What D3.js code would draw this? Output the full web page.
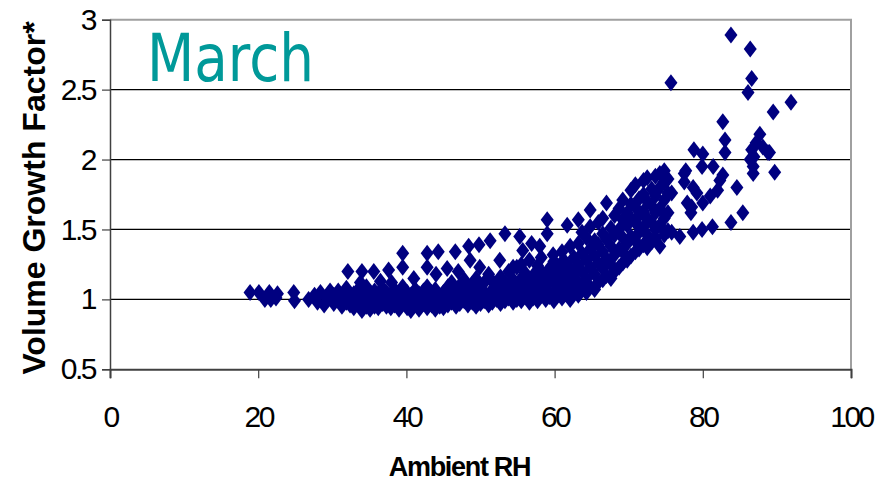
<!DOCTYPE html>
<html>
<head>
<meta charset="utf-8">
<script src="https://cdn.jsdelivr.net/npm/d3@7"></script>
<style>
  body { margin: 0; background: #fff; }
  svg { display: block; font-family: "Liberation Sans", Arial, sans-serif; }
  .tick text { font-size: 30px; letter-spacing: -2.5px; fill: #000; }
</style>
</head>
<body>
<div id="chart"></div>
<script>
// axis ticks
let xTicks = [0, 20, 40, 60, 80, 100];
let yTicks = [0.5, 1, 1.5, 2, 2.5, 3];

// points, [ambient RH, volume growth factor]
let tailPoints = [
  [18.9, 1.05], [20.1, 1.05], [20.9, 1.00], [21.5, 1.05], [21.7, 1.00], [22.4, 1.01], [22.6, 1.04],
  [24.8, 1.05], [24.9, 0.99], [26.8, 1.00], [27.6, 1.03], [28.0, 0.98], [28.4, 1.05], [28.9, 0.96],
  [29.3, 1.01], [29.7, 1.06]
];

let lowBand = [
  [30.2, 0.97], [30.2, 1.03], [30.8, 1.00], [30.8, 1.06], [31.3, 0.95], [31.3, 1.02],
  [31.9, 0.98], [31.9, 1.05], [31.9, 1.08], [32.4, 0.96], [32.4, 1.01],
  [32.9, 0.99], [32.9, 1.04], [32.9, 0.94], [33.5, 0.97], [33.5, 1.02], [33.5, 1.07],
  [34.0, 0.92], [34.0, 0.99], [34.0, 1.05], [34.6, 0.95], [34.6, 1.01], [34.6, 1.09],
  [35.1, 0.97], [35.1, 1.03], [35.1, 0.93], [35.7, 0.99], [35.7, 1.06], [35.7, 0.95],
  [36.2, 0.94], [36.2, 1.01], [36.2, 1.04], [36.8, 0.97], [36.8, 1.08], [36.8, 1.02],
  [37.3, 0.95], [37.3, 1.00], [37.3, 1.05], [37.9, 0.98], [37.9, 1.03], [37.9, 0.94],
  [38.4, 0.96], [38.4, 1.01], [38.4, 1.07], [39.0, 0.93], [39.0, 0.99], [39.0, 1.04],
  [39.5, 0.97], [39.5, 1.02], [39.5, 1.09], [40.1, 0.94], [40.1, 1.00], [40.1, 1.05],
  [40.6, 0.96], [40.6, 1.03], [40.6, 0.92], [41.2, 0.98], [41.2, 1.01], [41.2, 1.07],
  [41.7, 0.95], [41.7, 1.04], [41.7, 0.93], [42.3, 0.97], [42.3, 1.00], [42.3, 1.06],
  [42.8, 0.94], [42.8, 1.02], [42.8, 1.09], [43.4, 0.96], [43.4, 0.99], [43.4, 1.05],
  [43.9, 0.93], [43.9, 1.01], [43.9, 1.07], [44.5, 0.97], [44.5, 1.03], [44.5, 0.95],
  [45.0, 0.99], [45.0, 1.05], [45.0, 0.94]
];

let lowOutliers = [
  [32.1, 1.20], [34.0, 1.20], [35.6, 1.20], [37.6, 1.21], [39.5, 1.33], [39.5, 1.23],
  [38.0, 1.12], [42.8, 1.33], [42.8, 1.23], [44.3, 1.34], [46.6, 1.34], [48.4, 1.38],
  [49.8, 1.39], [33.8, 1.12], [36.5, 1.13], [41.0, 1.15], [44.0, 1.18], [45.5, 1.22], [47.0, 1.20]
];

let midBand = [
  [45.6, 0.96], [45.6, 1.02], [45.6, 1.09], [46.1, 0.98], [46.1, 1.04], [46.1, 1.12],
  [46.7, 0.95], [46.7, 1.00], [46.7, 1.07], [47.2, 0.97], [47.2, 1.03], [47.2, 1.10],
  [47.8, 0.99], [47.8, 1.06], [47.8, 1.14], [48.3, 0.96], [48.3, 1.01], [48.3, 1.08],
  [48.9, 0.98], [48.9, 1.04], [48.9, 1.11], [49.4, 0.95], [49.4, 1.00], [49.4, 1.06], [49.4, 1.15],
  [50.0, 0.97], [50.0, 1.03], [50.0, 1.09], [50.5, 0.99], [50.5, 1.05], [50.5, 1.12],
  [51.1, 0.96], [51.1, 1.02], [51.1, 1.18], [51.6, 0.98], [51.6, 1.07], [51.6, 1.13],
  [52.2, 1.00], [52.2, 1.04], [52.2, 1.10], [52.7, 0.97], [52.7, 1.06], [52.7, 1.16],
  [53.3, 0.99], [53.3, 1.02], [53.3, 1.12], [53.8, 1.01], [53.8, 1.08], [53.8, 1.20],
  [54.4, 0.98], [54.4, 1.05], [54.4, 1.14], [54.9, 1.00], [54.9, 1.10], [54.9, 1.23],
  [48.6, 1.28], [49.9, 1.23], [51.3, 1.42], [52.6, 1.28], [53.3, 1.47], [54.4, 1.23],
  [55.3, 1.45], [55.7, 1.35], [56.9, 1.40], [58.0, 1.38], [59.0, 1.57], [59.0, 1.47],
  [59.8, 1.32], [61.2, 1.28], [61.7, 1.53]
];

let upperBand = [
  [55.5, 0.99], [55.5, 1.06], [55.5, 1.15], [55.5, 1.25], [56.0, 1.02], [56.0, 1.09], [56.0, 1.19],
  [56.6, 0.98], [56.6, 1.04], [56.6, 1.12], [56.6, 1.28], [57.1, 1.01], [57.1, 1.08], [57.1, 1.17],
  [57.7, 0.99], [57.7, 1.05], [57.7, 1.14], [57.7, 1.24], [58.2, 1.03], [58.2, 1.10], [58.2, 1.20], [58.2, 1.30],
  [58.8, 1.00], [58.8, 1.07], [58.8, 1.16], [59.3, 1.02], [59.3, 1.12], [59.3, 1.22],
  [59.9, 0.99], [59.9, 1.05], [59.9, 1.18], [59.9, 1.27], [60.4, 1.03], [60.4, 1.09], [60.4, 1.14], [60.4, 1.24],
  [61.0, 1.01], [61.0, 1.11], [61.0, 1.20], [61.0, 1.34], [61.5, 1.04], [61.5, 1.07], [61.5, 1.16], [61.5, 1.26],
  [62.1, 1.00], [62.1, 1.13], [62.1, 1.22], [62.1, 1.38], [62.6, 1.05], [62.6, 1.09], [62.6, 1.18], [62.6, 1.30]
];

let risePoints = [
  [63.2, 1.03], [63.2, 1.12], [63.2, 1.25], [63.2, 1.40], [63.2, 1.57],
  [63.7, 1.08], [63.7, 1.20], [63.7, 1.33], [63.7, 1.48],
  [64.3, 1.05], [64.3, 1.15], [64.3, 1.28], [64.3, 1.44],
  [64.8, 1.09], [64.8, 1.23], [64.8, 1.36], [64.8, 1.52], [64.8, 1.64],
  [65.4, 1.07], [65.4, 1.18], [65.4, 1.31], [65.4, 1.42],
  [65.9, 1.12], [65.9, 1.26], [65.9, 1.39], [65.9, 1.55],
  [66.5, 1.14], [66.5, 1.22], [66.5, 1.34], [66.5, 1.47], [66.5, 1.58],
  [67.0, 1.17], [67.0, 1.29], [67.0, 1.43], [67.0, 1.69],
  [67.6, 1.15], [67.6, 1.25], [67.6, 1.38], [67.6, 1.51],
  [68.1, 1.20], [68.1, 1.32], [68.1, 1.46], [68.1, 1.60],
  [68.7, 1.23], [68.7, 1.36], [68.7, 1.50], [68.7, 1.65],
  [69.2, 1.26], [69.2, 1.34], [69.2, 1.44], [69.2, 1.57], [69.2, 1.71],
  [69.8, 1.28], [69.8, 1.40], [69.8, 1.53], [69.8, 1.62]
];

let highBand = [
  [70.3, 1.31], [70.3, 1.45], [70.3, 1.58], [70.3, 1.68], [70.3, 1.78],
  [70.9, 1.34], [70.9, 1.42], [70.9, 1.55], [70.9, 1.66], [70.9, 1.82],
  [71.4, 1.36], [71.4, 1.48], [71.4, 1.60], [71.4, 1.72],
  [72.0, 1.39], [72.0, 1.52], [72.0, 1.63], [72.0, 1.75], [72.0, 1.85],
  [72.5, 1.37], [72.5, 1.46], [72.5, 1.58], [72.5, 1.70], [72.5, 1.87],
  [73.1, 1.41], [73.1, 1.55], [73.1, 1.67], [73.1, 1.79],
  [73.6, 1.44], [73.6, 1.50], [73.6, 1.62], [73.6, 1.74], [73.6, 1.88],
  [74.2, 1.38], [74.2, 1.53], [74.2, 1.65], [74.2, 1.80], [74.2, 1.90],
  [74.8, 1.46], [74.8, 1.58], [74.8, 1.71], [74.8, 1.84], [74.8, 1.92],
  [75.3, 1.49], [75.3, 1.62], [75.3, 1.76], [75.3, 1.86],
  [75.8, 1.48], [75.8, 1.76], [76.9, 1.45], [77.5, 1.90], [77.5, 1.84],
  [77.9, 1.69], [78.5, 1.66], [78.4, 1.62], [78.7, 1.48], [78.7, 1.80], [79.2, 1.76],
  [80.0, 1.69], [81.0, 1.74], [82.0, 1.78], [82.3, 1.85], [81.3, 1.52], [79.9, 1.50],
  [83.8, 1.55], [85.4, 1.62], [84.6, 1.80], [82.7, 1.89], [81.4, 1.95], [79.9, 1.95],
  [77.7, 1.92], [78.8, 2.07], [80.0, 2.04], [83.0, 2.14], [83.0, 2.05], [82.7, 2.27]
];

let rightCluster = [
  [86.6, 2.07], [87.7, 2.18], [87.2, 2.12], [88.8, 2.05], [86.8, 1.95], [86.8, 1.90],
  [89.7, 1.91], [86.4, 2.00], [88.1, 2.09], [86.9, 2.02], [89.0, 2.05]
];

let topOutliers = [
  [75.7, 2.55], [83.8, 2.89], [86.4, 2.79], [86.6, 2.58], [86.1, 2.48], [91.9, 2.41], [89.5, 2.34]
];

let allPoints = [].concat(tailPoints, lowBand, lowOutliers, midBand, upperBand,
  risePoints, highBand, rightCluster, topOutliers);

let svgWidth = 891;
let svgHeight = 488;
let plotLeft = 110, plotRight = 851, plotTop = 19.7, plotBottom = 369.3;

let svg = d3.select('#chart')
  .append('svg')
  .attr('width', svgWidth)
  .attr('height', svgHeight);

let xScale = d3.scaleLinear().domain([0, 100]).range([plotLeft, plotRight]);
let yScale = d3.scaleLinear().domain([0.5, 3]).range([plotBottom, plotTop]);

// horizontal gridlines
svg.append('g')
  .selectAll('line')
  .data(yTicks.filter(d => d > 0.5 && d < 3))
  .enter()
  .append('line')
  .attr('x1', plotLeft)
  .attr('x2', plotRight)
  .attr('y1', d => yScale(d))
  .attr('y2', d => yScale(d))
  .attr('stroke', '#000')
  .attr('stroke-width', 1.2);

// top and right frame
svg.append('path')
  .attr('d', `M${plotLeft},${plotTop}H${plotRight}V${plotBottom}`)
  .attr('fill', 'none')
  .attr('stroke', '#a0a0a0')
  .attr('stroke-width', 2);

// axes
let yAxis = svg.append('g')
  .attr('transform', `translate(${plotLeft},0)`)
  .call(d3.axisLeft(yScale).tickValues(yTicks).tickSize(8).tickPadding(7).tickFormat(d3.format('')));

let xAxis = svg.append('g')
  .attr('transform', `translate(0,${plotBottom})`)
  .call(d3.axisBottom(xScale).tickValues(xTicks).tickSize(9).tickPadding(27));

svg.selectAll('.domain').attr('stroke', '#404040').attr('stroke-width', 1.5);
svg.selectAll('.tick line').attr('stroke', '#404040').attr('stroke-width', 1.2);
svg.selectAll('.tick text').attr('font-family', '"Liberation Sans", Arial, sans-serif');
xAxis.selectAll('.domain').attr('stroke-width', 2);

// diamonds
let diamond = 'M0,-8.5L6.5,0L0,8.5L-6.5,0Z';
svg.append('g')
  .selectAll('path')
  .data(allPoints)
  .enter()
  .append('path')
  .attr('d', diamond)
  .attr('transform', d => `translate(${xScale(d[0])},${yScale(d[1])})`)
  .attr('fill', '#000080');

// labels
svg.append('text')
  .attr('x', 147)
  .attr('y', 81)
  .attr('font-family', '"DejaVu Sans", Verdana, sans-serif')
  .attr('font-size', 66)
  .attr('textLength', 167)
  .attr('lengthAdjust', 'spacingAndGlyphs')
  .attr('fill', '#009999')
  .text('March');

svg.append('text')
  .attr('x', (387 + 532) / 2)
  .attr('y', 476)
  .attr('text-anchor', 'middle')
  .attr('font-size', 27)
  .attr('font-weight', 'bold')
  .attr('letter-spacing', -1.3)
  .text('Ambient RH');

svg.append('text')
  .attr('transform', 'translate(45,198) rotate(-90)')
  .attr('text-anchor', 'middle')
  .attr('font-size', 32)
  .attr('font-weight', 'bold')
  .text('Volume Growth Factor*');
</script>
</body>
</html>
